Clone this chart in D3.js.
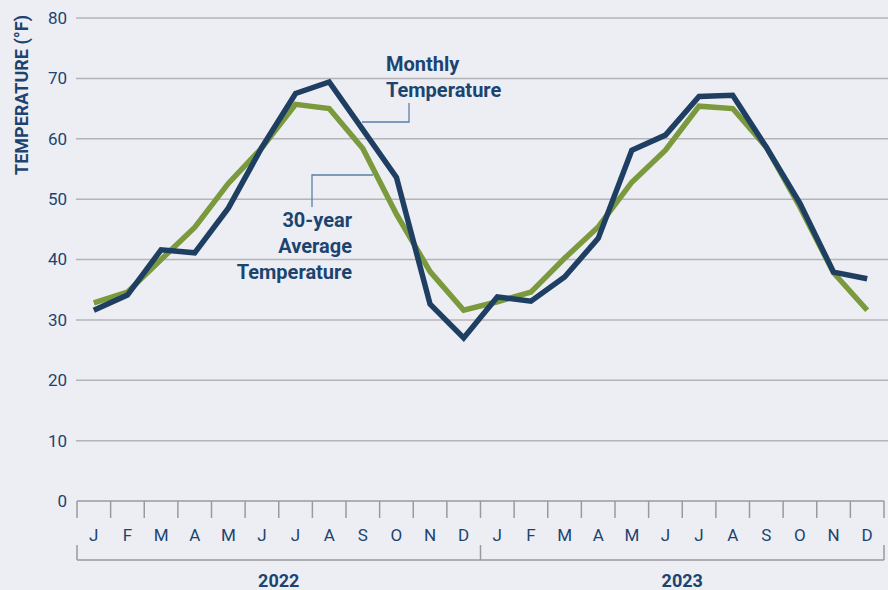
<!DOCTYPE html>
<html>
<head>
<meta charset="utf-8">
<script src="https://cdn.jsdelivr.net/npm/d3@7"></script>
<style>
  html, body { margin: 0; padding: 0; background: #edeef4; }
  svg { display: block; font-family: Roboto, "Noto Sans", sans-serif; }
</style>
</head>
<body>
<svg id="chart"></svg>
<script>
// data
const months = ["J","F","M","A","M","J","J","A","S","O","N","D"];
const years = ["2022","2023"];
const yTicks = [0,10,20,30,40,50,60,70,80];
const monthlyTemp = [31.6,34.1,41.6,41.1,48.5,58.6,67.5,69.4,61.5,53.6,32.6,27.0,
                     33.8,33.1,37.1,43.5,58.1,60.6,67.0,67.2,58.6,49.3,37.9,36.8];
const avgTemp = [32.8,34.6,40.0,45.3,52.6,58.5,65.7,65.0,58.4,47.5,38.0,31.6,
                 33.0,34.6,40.2,45.4,52.8,58.1,65.4,65.0,58.6,48.7,37.8,31.6];

const W = 888, H = 590;
const textColor = "#1b4470";
const navy = "#1f3f62";
const green = "#7a9a3d";
const leader = "#5a7fa6";
const axisGrey = "#9a9a9e";

const svg = d3.select("#chart").attr("width", W).attr("height", H);

// one slot for every month of both years
const slots = d3.range(years.length * months.length);

const x = d3.scaleBand()
  .domain(slots)
  .range([77, 884]);

const y = d3.scaleLinear()
  .domain([0, 80])
  .range([501, 18]);

// gridlines
svg.append("g")
  .selectAll("line")
  .data(yTicks.filter(d => d > 0))
  .join("line")
    .attr("x1", 76).attr("x2", W)
    .attr("y1", d => y(d)).attr("y2", d => y(d))
    .attr("stroke", "#b4b4b8")
    .attr("stroke-width", 1.5);

// y tick labels
svg.append("g")
  .selectAll("text")
  .data(yTicks)
  .join("text")
    .attr("x", 67)
    .attr("y", d => y(d))
    .attr("dy", "0.35em")
    .attr("text-anchor", "end")
    .attr("fill", textColor)
    .style("font-size", "17px")
    .text(d => d);

// y axis title
svg.append("text")
  .attr("transform", "translate(28,95) rotate(-90)")
  .attr("text-anchor", "middle")
  .attr("fill", textColor)
  .style("font-size", "18px")
  .style("font-weight", "bold")
  .text("TEMPERATURE (°F)");

// x axis line and month ticks
const axisG = svg.append("g");
axisG.append("line")
  .attr("x1", x.range()[0]).attr("x2", x.range()[1])
  .attr("y1", y(0)).attr("y2", y(0))
  .attr("stroke", axisGrey).attr("stroke-width", 1.5);

const tickXs = slots.map(d => x(d)).concat([x.range()[1]]);
axisG.selectAll("line.tick")
  .data(tickXs)
  .join("line")
    .attr("class", "tick")
    .attr("x1", d => d).attr("x2", d => d)
    .attr("y1", y(0)).attr("y2", y(0) + 17)
    .attr("stroke", axisGrey).attr("stroke-width", 1.5);

axisG.selectAll("text.month")
  .data(slots)
  .join("text")
    .attr("class", "month")
    .attr("x", d => x(d) + x.bandwidth() / 2)
    .attr("y", 541)
    .attr("text-anchor", "middle")
    .attr("fill", textColor)
    .style("font-size", "17px")
    .text(d => months[d % 12]);

// year brackets
const bracketY = 560;
axisG.append("line")
  .attr("x1", x.range()[0]).attr("x2", x.range()[1])
  .attr("y1", bracketY).attr("y2", bracketY)
  .attr("stroke", axisGrey).attr("stroke-width", 1.5);

const yearEdges = [0, 12, 24].map(i => i < 24 ? x(i) : x.range()[1]);
axisG.selectAll("line.ybr")
  .data(yearEdges)
  .join("line")
    .attr("class", "ybr")
    .attr("x1", d => d).attr("x2", d => d)
    .attr("y1", bracketY - 15).attr("y2", bracketY)
    .attr("stroke", axisGrey).attr("stroke-width", 1.5);

axisG.selectAll("text.year")
  .data(years)
  .join("text")
    .attr("class", "year")
    .attr("x", (d, i) => (yearEdges[i] + yearEdges[i + 1]) / 2)
    .attr("y", 587)
    .attr("text-anchor", "middle")
    .attr("fill", textColor)
    .style("font-size", "18px")
    .style("font-weight", "bold")
    .text(d => d);

// lines
const line = d3.line()
  .x((d, i) => x(i) + x.bandwidth() / 2)
  .y(d => y(d));

svg.append("path")
  .datum(avgTemp)
  .attr("d", line)
  .attr("fill", "none")
  .attr("stroke", green)
  .attr("stroke-width", 5.5);

svg.append("path")
  .datum(monthlyTemp)
  .attr("d", line)
  .attr("fill", "none")
  .attr("stroke", navy)
  .attr("stroke-width", 5.5);

// annotations
const ann = svg.append("g")
  .attr("fill", textColor)
  .style("font-size", "20px")
  .style("font-weight", "bold");

ann.append("text").attr("x", 386).attr("y", 71).text("Monthly");
ann.append("text").attr("x", 386).attr("y", 97).text("Temperature");

ann.selectAll("text.avg")
  .data(["30-year", "Average", "Temperature"])
  .join("text")
    .attr("class", "avg")
    .attr("x", 352)
    .attr("y", (d, i) => 227 + i * 26)
    .attr("text-anchor", "end")
    .text(d => d);

svg.append("path")
  .attr("d", "M409,103V122H362")
  .attr("fill", "none")
  .attr("stroke", leader)
  .attr("stroke-width", 1.3);

svg.append("path")
  .attr("d", "M373,175H312V207")
  .attr("fill", "none")
  .attr("stroke", leader)
  .attr("stroke-width", 1.3);
</script>
</body>
</html>
